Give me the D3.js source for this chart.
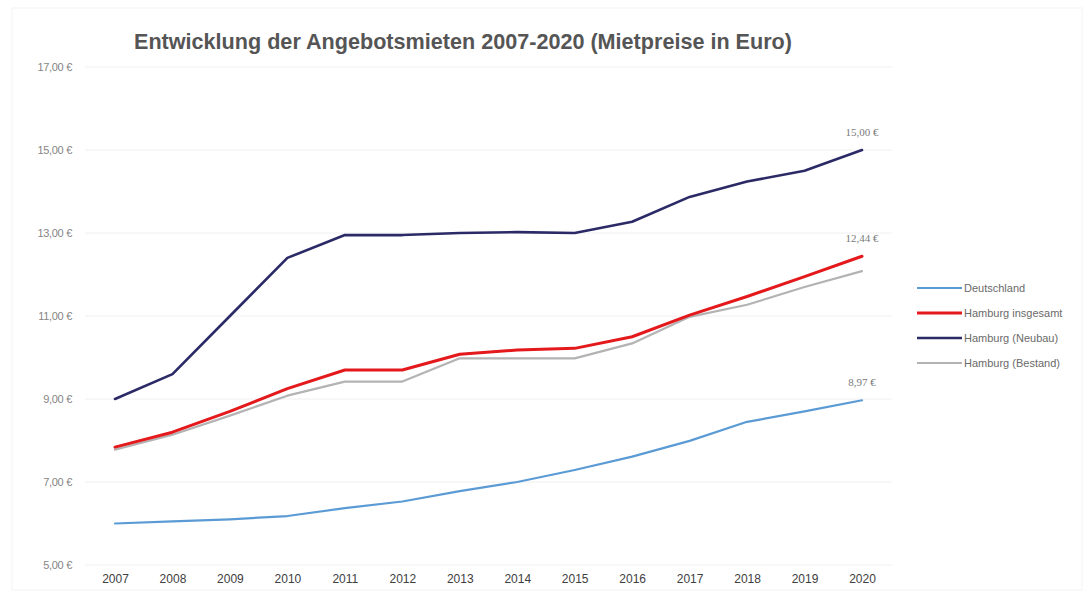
<!DOCTYPE html>
<html><head><meta charset="utf-8">
<script src="https://cdn.jsdelivr.net/npm/d3@7"></script>
<style>body{margin:0;background:#fff}svg{display:block}</style>
</head><body>
<svg id="c" width="1086" height="592"></svg>
<script>
const years = [2007,2008,2009,2010,2011,2012,2013,2014,2015,2016,2017,2018,2019,2020];
const deutschland = [6.00,6.05,6.10,6.18,6.37,6.53,6.78,7.00,7.29,7.61,7.99,8.45,8.70,8.97];
const hhInsgesamt = [7.84,8.20,8.70,9.25,9.70,9.70,10.08,10.18,10.22,10.50,11.02,11.47,11.95,12.44];
const hhNeubau = [9.00,9.60,11.00,12.40,12.95,12.95,13.00,13.02,13.00,13.27,13.87,14.24,14.50,15.00];
const hhBestand = [7.78,8.14,8.60,9.08,9.42,9.42,9.98,9.98,9.98,10.34,10.98,11.27,11.70,12.08];
const yTicks = [5,7,9,11,13,15,17];
const seriesNames = ["Deutschland","Hamburg insgesamt","Hamburg (Neubau)","Hamburg (Bestand)"];
const endLabels = ["8,97 €","12,44 €","15,00 €"];

const series = [
  {name:seriesNames[0], values:deutschland, color:"#5b9bd5", w:2.2, label:endLabels[0]},
  {name:seriesNames[1], values:hhInsgesamt, color:"#e3191c", w:3, label:endLabels[1]},
  {name:seriesNames[2], values:hhNeubau, color:"#2b2a66", w:2.6, label:endLabels[2]},
  {name:seriesNames[3], values:hhBestand, color:"#b3b3b3", w:2.2, label:null}
];
const drawOrder = [3,1,2,0];

const svg = d3.select("#c");
const x = d3.scalePoint().domain(years).range([115,862]);
const y = d3.scaleLinear().domain([5,17]).range([565,67]);
const fmt = v => d3.format(".2f")(v).replace(".", ",") + " €";

svg.append("rect").attr("x",12).attr("y",8).attr("width",1070).attr("height",582)
  .attr("fill","none").attr("stroke","#f3f3f3");

svg.append("g").selectAll("line").data(yTicks).join("line")
  .attr("x1",85).attr("x2",892).attr("y1",d=>y(d)).attr("y2",d=>y(d))
  .attr("stroke","#f0f0f0").attr("stroke-width",1);

const yAxis = svg.append("g").attr("transform","translate(72,0)")
  .call(d3.axisLeft(y).tickValues(yTicks).tickFormat(fmt).tickSize(0).tickPadding(0));
yAxis.select(".domain").remove();
yAxis.selectAll("text").attr("font-family","Liberation Sans, Arial, sans-serif")
  .attr("font-size",11).attr("fill","#858585").attr("letter-spacing","-0.3");

const xAxis = svg.append("g").attr("transform","translate(0,574)")
  .call(d3.axisBottom(x).tickSize(0).tickPadding(0).tickFormat(d3.format("d")));
xAxis.select(".domain").remove();
xAxis.selectAll("text").attr("font-family","Liberation Sans Narrow, Liberation Sans, Arial, sans-serif")
  .attr("font-size",12).attr("fill","#404040").attr("dy","0.71em");

const line = d3.line().x((d,i)=>x(years[i])).y(d=>y(d));
svg.append("g").selectAll("path").data(drawOrder.map(i=>series[i])).join("path")
  .attr("d",d=>line(d.values)).attr("fill","none")
  .attr("stroke",d=>d.color).attr("stroke-width",d=>d.w)
  .attr("stroke-linejoin","round").attr("stroke-linecap","round");

svg.append("g").selectAll("text").data(series.filter(s=>s.label)).join("text")
  .attr("x",x(2020)).attr("y",d=>y(d.values[d.values.length-1])-14)
  .attr("text-anchor","middle").attr("font-family","Liberation Serif, serif")
  .attr("font-size",11).attr("fill","#7a7a7a").text(d=>d.label);

const lg = svg.append("g").selectAll("g").data(series).join("g")
  .attr("transform",(d,i)=>`translate(917,${288+i*25})`);
lg.append("line").attr("x1",0).attr("x2",45).attr("stroke",d=>d.color).attr("stroke-width",d=>d.w);
lg.append("text").attr("x",47).attr("dy","0.35em").attr("font-family","Liberation Sans, Arial, sans-serif")
  .attr("font-size",11).attr("fill","#6a6a6a").text(d=>d.name);

svg.append("text").attr("x",463).attr("y",49).attr("text-anchor","middle")
  .attr("font-family","Liberation Sans, Arial, sans-serif").attr("font-weight","bold")
  .attr("font-size",21.6).attr("fill","#555").text("Entwicklung der Angebotsmieten 2007-2020 (Mietpreise in Euro)");
</script>
</body></html>
